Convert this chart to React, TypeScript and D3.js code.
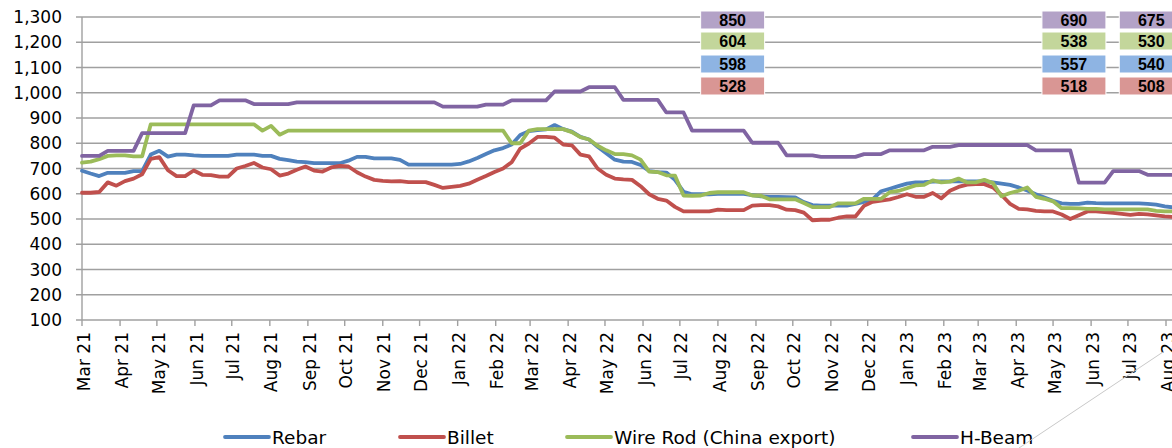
import React from 'react';
import * as d3 from 'd3';

// Weekly observations starting 1 Mar 2021
const startDate = new Date(2021, 2, 1);

const rebar = [
  691, 680, 670, 683, 683, 683, 690, 690, 755, 770,
  747, 755, 755, 752, 750, 750, 750, 750, 755, 755,
  755, 750, 750, 738, 733, 727, 725, 721, 721, 721,
  721, 731, 746, 746, 740, 740, 740, 734, 715, 715,
  715, 715, 715, 715, 718, 728, 742, 757, 772, 781,
  795, 833, 848, 852, 855, 872, 856, 846, 825, 815,
  786, 760, 735, 727, 726, 714, 690, 686, 684, 655,
  608, 598, 598, 598, 600, 600, 600, 600, 595, 590,
  588, 588, 587, 586, 567, 555, 553, 553, 553, 553,
  560, 568, 578, 610, 620, 630, 640, 645, 646, 648,
  649, 649, 649, 649, 649, 649, 645, 640, 635, 625,
  613, 598, 585, 572, 562, 560, 560, 565, 563, 562,
  562, 562, 562, 562, 560, 557, 550, 546,
];

const billet = [
  604, 604, 607, 645, 632, 650, 660, 677, 738, 745,
  693, 670, 670, 692, 675, 674, 668, 668, 700, 710,
  722, 704, 697, 672, 680, 695, 708, 692, 688, 704,
  710, 708, 685, 668, 655, 651, 649, 650, 646, 646,
  646, 635, 623, 627, 631, 640, 655, 670, 686, 700,
  725, 779, 799, 825, 825, 822, 795, 792, 755, 748,
  700, 675, 660, 657, 655, 630, 598, 580, 573, 548,
  530, 530, 530, 530, 537, 535, 535, 535, 553, 555,
  555, 550, 537, 535, 525, 495, 497, 497, 505, 510,
  510, 552, 568, 573, 578, 587, 598, 588, 588, 603,
  582, 612, 627, 636, 638, 638, 625, 595, 560, 540,
  538, 532, 530, 530, 518, 500, 515, 530, 530, 527,
  524, 520, 516, 520, 518, 514, 510, 508,
];

const wireRod = [
  723, 727, 737, 750, 752, 752, 748, 748, 875, 875,
  875, 875, 875, 875, 875, 875, 875, 875, 875, 875,
  875, 850, 869, 834, 850, 850, 850, 850, 850, 850,
  850, 850, 850, 850, 850, 850, 850, 850, 850, 850,
  850, 850, 850, 850, 850, 850, 850, 850, 850, 850,
  800, 800, 850, 856, 856, 856, 856, 844, 824, 815,
  790, 772, 757, 757, 752, 735, 688, 686, 673, 672,
  593, 592, 593, 603, 606, 606, 606, 606, 593, 592,
  578, 578, 578, 578, 563, 547, 547, 547, 562, 562,
  562, 580, 580, 580, 606, 611, 622, 633, 635, 653,
  645, 648, 660, 645, 645, 655, 642, 590, 603, 612,
  625, 588, 580, 570, 543, 543, 542, 540, 540, 538,
  538, 538, 538, 538, 538, 532, 530, 530,
];

const hBeam = [
  750, 750, 750, 770, 770, 770, 770, 840, 840, 840,
  840, 840, 840, 950, 950, 950, 970, 970, 970, 970,
  955, 955, 955, 955, 955, 962, 962, 962, 962, 962,
  962, 962, 962, 962, 962, 962, 962, 962, 962, 962,
  962, 962, 945, 945, 945, 945, 945, 953, 953, 953,
  970, 970, 970, 970, 970, 1005, 1005, 1005, 1005, 1022,
  1022, 1022, 1022, 972, 972, 972, 972, 972, 922, 922,
  922, 850, 850, 850, 850, 850, 850, 850, 802, 802,
  802, 802, 752, 752, 752, 752, 746, 746, 746, 746,
  746, 757, 757, 757, 772, 772, 772, 772, 772, 786,
  786, 786, 793, 793, 793, 793, 793, 793, 793, 793,
  793, 772, 772, 772, 772, 772, 644, 644, 644, 644,
  690, 690, 690, 690, 675, 675, 675, 675,
];

const seriesNames = ['Rebar', 'Billet', 'Wire Rod (China export)', 'H-Beam'];
const seriesColors = ['#4f81bd', '#c0504d', '#9bbb59', '#8064a2'];
const boxColors = ['#8eb4e3', '#d99694', '#c3d69b', '#b3a2c7'];

const yTicks = [100, 200, 300, 400, 500, 600, 700, 800, 900, 1000, 1100, 1200, 1300];

// Value call-outs (top of chart)
const calloutDates = ['2022-08-13', '2023-05-18', '2023-07-20'];
const calloutHBeam = [850, 690, 675];
const calloutWireRod = [604, 538, 530];
const calloutRebar = [598, 557, 540];
const calloutBillet = [528, 518, 508];

// layout
const W = 1172;
const H = 448;
const legendX = [225, 400, 567, 913];

export default function App() {
  const x = d3
    .scaleTime()
    .domain([new Date(2021, 2, 1), new Date(2023, 7, 1)])
    .range([82, 1166]);
  const y = d3.scaleLinear().domain([100, 1300]).range([320, 17]);

  const dates = rebar.map((_, i) => d3.timeDay.offset(startDate, 7 * i));
  const allSeries = [rebar, billet, wireRod, hBeam];
  const line = d3
    .line<number>()
    .x((_, i) => x(dates[i]))
    .y((v) => y(v));

  const months = d3.timeMonth.range(new Date(2021, 2, 1), new Date(2023, 7, 2));
  const fmt = d3.timeFormat('%b %y');
  const numFmt = d3.format(',');

  const rows = [
    { vals: calloutHBeam, color: boxColors[3] },
    { vals: calloutWireRod, color: boxColors[2] },
    { vals: calloutRebar, color: boxColors[0] },
    { vals: calloutBillet, color: boxColors[1] },
  ];
  const rowTop = [11, 32, 55, 77];
  const boxW = 64;
  const boxH = 18;

  const plotLeft = x.range()[0];
  const axisFont = 'DejaVu Sans, Verdana, sans-serif';

  return (
    <svg
      width={W}
      height={H}
      style={{ position: 'absolute', left: 0, top: 0, background: '#fff' }}
    >
      <rect x={0} y={0} width={W} height={H} fill="#fff" />
      {/* gridlines */}
      {yTicks.map((t) => (
        <line
          key={'g' + t}
          x1={plotLeft - 6}
          x2={W}
          y1={y(t)}
          y2={y(t)}
          stroke="#a0a0a0"
          strokeWidth={1.4}
        />
      ))}
      {/* y axis line */}
      <line x1={plotLeft} x2={plotLeft} y1={y(1300)} y2={y(100)} stroke="#a0a0a0" strokeWidth={1.4} />
      {/* y labels */}
      {yTicks.map((t) => (
        <text
          key={'yl' + t}
          x={62}
          y={y(t)}
          dy="0.36em"
          textAnchor="end"
          fontFamily={axisFont}
          fontSize={17}
          fill="#000"
        >
          {numFmt(t)}
        </text>
      ))}
      {/* x ticks & labels */}
      {months.map((m) => (
        <g key={'m' + m.getTime()}>
          <line x1={x(m)} x2={x(m)} y1={y(100)} y2={y(100) + 6} stroke="#a0a0a0" strokeWidth={1.4} />
          <text
            transform={`translate(${x(m) + 1.5},${y(100) + 12}) rotate(-90)`}
            dy="0.36em"
            textAnchor="end"
            fontFamily={axisFont}
            fontSize={17}
            fill="#000"
          >
            {fmt(m)}
          </text>
        </g>
      ))}
      {/* series */}
      {allSeries.map((s, k) => (
        <path
          key={'s' + k}
          d={line(s) || ''}
          fill="none"
          stroke={seriesColors[k]}
          strokeWidth={3.8}
          strokeLinejoin="round"
          strokeLinecap="round"
        />
      ))}
      {/* call-out boxes */}
      {calloutDates.map((ds, gi) => {
        const cx = x(d3.timeParse('%Y-%m-%d')(ds) as Date);
        return (
          <g key={'c' + gi}>
            {rows.map((r, ri) => (
              <g key={'r' + ri}>
                <rect
                  x={cx - boxW / 2}
                  y={rowTop[ri]}
                  width={boxW}
                  height={boxH}
                  fill={r.color}
                  stroke="#fff"
                  strokeWidth={1}
                />
                <text
                  x={cx}
                  y={rowTop[ri] + boxH / 2}
                  dy="0.36em"
                  textAnchor="middle"
                  fontFamily="Liberation Sans, Arial, sans-serif"
                  fontWeight="bold"
                  fontSize={16}
                  fill="#000"
                >
                  {r.vals[gi]}
                </text>
              </g>
            ))}
          </g>
        );
      })}
      {/* legend */}
      {seriesNames.map((n, k) => (
        <g key={'l' + k}>
          <line
            x1={legendX[k]}
            x2={legendX[k] + 44}
            y1={437}
            y2={437}
            stroke={seriesColors[k]}
            strokeWidth={3.8}
            strokeLinecap="round"
          />
          <text x={legendX[k] + 47} y={444} fontFamily={axisFont} fontSize={18.5} fill="#000">
            {n}
          </text>
        </g>
      ))}
      {/* stray connector line at bottom right */}
      <line x1={1163} y1={352} x2={1019} y2={448} stroke="#c8c8c8" strokeWidth={1} />
    </svg>
  );
}
